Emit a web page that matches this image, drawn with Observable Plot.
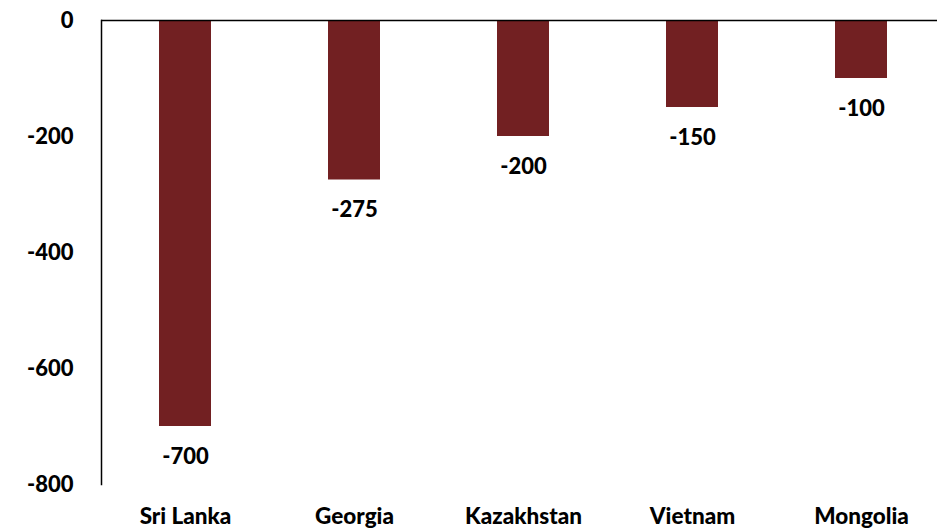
<!DOCTYPE html>
<html>
<head>
<meta charset="utf-8">
<script src="https://cdn.jsdelivr.net/npm/d3@7"></script>
<script src="https://cdn.jsdelivr.net/npm/@observablehq/plot@0.6"></script>
<style>
  html, body { margin: 0; padding: 0; background: #fff; }
  svg { display: block; }
</style>
</head>
<body>
<div id="chart"></div>
<script>
const countries = ["Sri Lanka", "Georgia", "Kazakhstan", "Vietnam", "Mongolia"];
const values = [-700, -275, -200, -150, -100];
const yTicks = [0, -200, -400, -600, -800];

const data = countries.map((c, i) => ({country: c, value: values[i]}));
const font = "Lato, 'Open Sans', sans-serif";

const chart = Plot.plot({
  width: 937,
  height: 529,
  marginLeft: 101,
  marginRight: 0,
  marginTop: 20,
  marginBottom: 45,
  style: {fontFamily: font, fontWeight: "900", fontSize: "22px", color: "#000", background: "#fff"},
  x: {domain: countries, range: [101, 946], paddingInner: 0.692, paddingOuter: 0.346, label: null},
  y: {domain: [-800, 0], label: null},
  marks: [
    Plot.barY(data, {x: "country", y: "value", fill: "#722022"}),
    Plot.text(data, {x: "country", y: "value", text: d => String(d.value), dy: 30, fill: "#000", fontSize: 22, fontWeight: "900"}),
    Plot.ruleY([0], {stroke: "#000", strokeWidth: 1.5}),
    Plot.frame({anchor: "left", stroke: "#000", strokeWidth: 1.5}),
    Plot.axisY({ticks: yTicks, tickFormat: d => String(d), tickSize: 0, tickPadding: 28, fontSize: 22, fontWeight: "900", label: null}),
    Plot.axisX({anchor: "bottom", tickSize: 0, tickPadding: 24, fontSize: 22.5, fontWeight: "900", label: null})
  ]
});
document.getElementById("chart").appendChild(chart);
</script>
</body>
</html>
